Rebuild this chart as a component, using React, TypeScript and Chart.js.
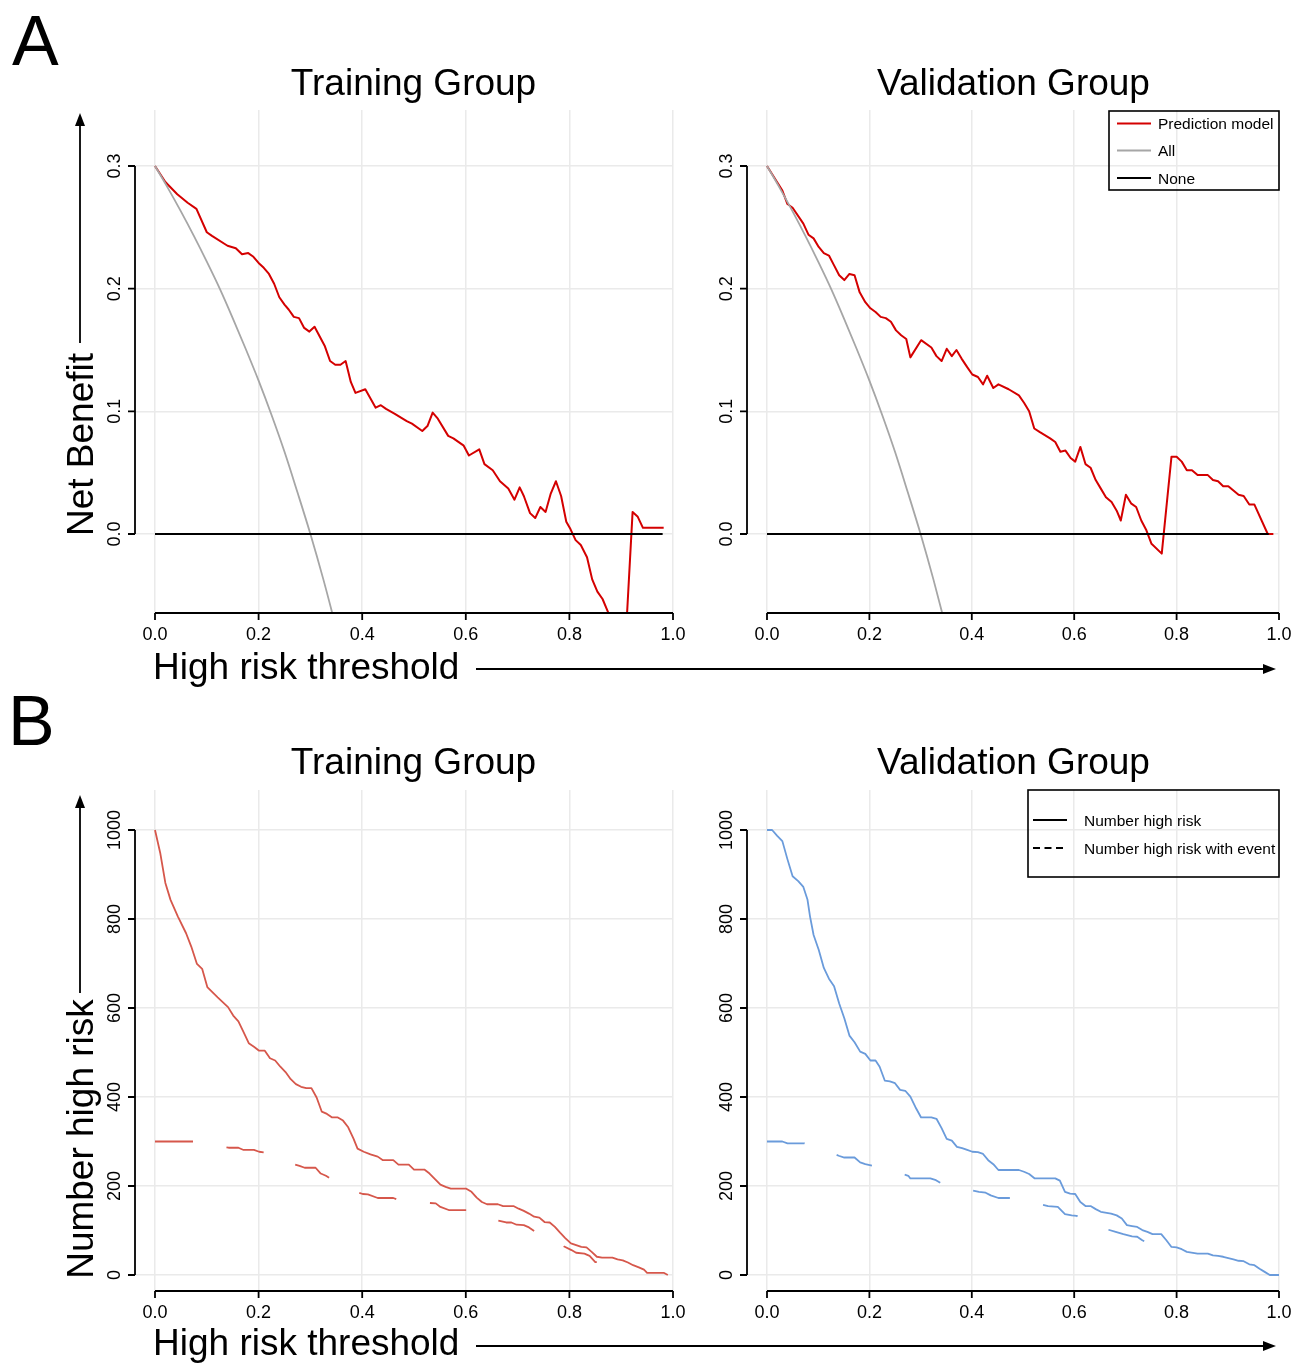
import React, { useEffect, useRef } from "react";
import { Chart, registerables } from "chart.js";

Chart.register(...registerables);

const FONT = '"Liberation Sans", Arial, Helvetica, sans-serif';

// ---------------- data ----------------
const xTickValues = [0, 0.2, 0.4, 0.6, 0.8, 1.0];
const xTickLabels = ["0.0", "0.2", "0.4", "0.6", "0.8", "1.0"];
const nbTickValues = [0, 0.1, 0.2, 0.3];
const nbTickLabels = ["0.0", "0.1", "0.2", "0.3"];
const countTickValues = [0, 200, 400, 600, 800, 1000];
const countTickLabels = ["0", "200", "400", "600", "800", "1000"];

const panelTitles = ["Training Group", "Validation Group"];
const netBenefitLegend = ["Prediction model", "All", "None"];
const countLegend = ["Number high risk", "Number high risk with event"];

// Net benefit, training group (prediction model)
const trainModelThreshold = [
  0, 0.02, 0.043, 0.063, 0.08, 0.1, 0.11, 0.14, 0.156, 0.168,
  0.18, 0.19, 0.2, 0.21, 0.22, 0.23, 0.24, 0.25, 0.258, 0.268,
  0.278, 0.288, 0.298, 0.308, 0.318, 0.328, 0.338, 0.348, 0.358, 0.368,
  0.378, 0.387, 0.406, 0.426, 0.436, 0.446, 0.463, 0.486, 0.496, 0.516,
  0.526, 0.536, 0.546, 0.566, 0.576, 0.596, 0.606, 0.626, 0.636, 0.652,
  0.666, 0.682, 0.694, 0.704, 0.712, 0.724, 0.734, 0.744, 0.754, 0.764,
  0.774, 0.784, 0.794, 0.802, 0.812, 0.822, 0.834, 0.844, 0.854, 0.864,
  0.874, 0.886, 0.898, 0.91, 0.922, 0.932, 0.942, 0.982,
];
const trainModelNB = [
  0.3, 0.287, 0.277, 0.27, 0.265, 0.246, 0.243, 0.235, 0.233, 0.228,
  0.229, 0.226, 0.221, 0.217, 0.212, 0.204, 0.193, 0.187, 0.183, 0.177,
  0.176, 0.168, 0.165, 0.169, 0.161, 0.153, 0.141, 0.138, 0.138, 0.141,
  0.124, 0.115, 0.118, 0.103, 0.105, 0.102, 0.098, 0.092, 0.09, 0.084,
  0.088, 0.099, 0.094, 0.08, 0.078, 0.072, 0.064, 0.069, 0.057, 0.052,
  0.043, 0.037, 0.028, 0.038, 0.031, 0.017, 0.013, 0.022, 0.018, 0.033,
  0.043, 0.031, 0.01, 0.004, -0.005, -0.009, -0.019, -0.037, -0.047, -0.053,
  -0.063, -0.078, -0.092, -0.075, 0.018, 0.014, 0.005, 0.005,
];

// Net benefit, validation group (prediction model)
const valModelThreshold = [
  0, 0.03, 0.04, 0.05, 0.071, 0.081, 0.091, 0.101, 0.111, 0.121,
  0.131, 0.141, 0.151, 0.161, 0.171, 0.181, 0.192, 0.202, 0.212, 0.222,
  0.232, 0.242, 0.252, 0.262, 0.272, 0.28, 0.301, 0.321, 0.331, 0.341,
  0.351, 0.361, 0.37, 0.38, 0.391, 0.401, 0.412, 0.422, 0.43, 0.442,
  0.452, 0.472, 0.492, 0.502, 0.512, 0.522, 0.533, 0.553, 0.563, 0.573,
  0.583, 0.593, 0.602, 0.612, 0.622, 0.632, 0.642, 0.652, 0.662, 0.673,
  0.683, 0.691, 0.701, 0.711, 0.721, 0.731, 0.741, 0.751, 0.771, 0.79,
  0.8, 0.81, 0.82, 0.83, 0.841, 0.861, 0.871, 0.881, 0.891, 0.901,
  0.921, 0.931, 0.942, 0.952, 0.978, 0.989,
];
const valModelNB = [
  0.3, 0.28, 0.269, 0.266, 0.253, 0.244, 0.241, 0.234, 0.229, 0.227,
  0.219, 0.211, 0.207, 0.212, 0.211, 0.197, 0.189, 0.184, 0.181, 0.177,
  0.176, 0.173, 0.166, 0.162, 0.159, 0.144, 0.158, 0.152, 0.145, 0.141,
  0.151, 0.145, 0.15, 0.143, 0.136, 0.13, 0.128, 0.122, 0.129, 0.119,
  0.122, 0.118, 0.113, 0.107, 0.1, 0.086, 0.083, 0.078, 0.075, 0.067,
  0.068, 0.062, 0.059, 0.071, 0.057, 0.054, 0.044, 0.037, 0.03, 0.026,
  0.019, 0.011, 0.032, 0.025, 0.022, 0.011, 0.003, -0.008, -0.016, 0.063,
  0.063, 0.059, 0.052, 0.052, 0.048, 0.048, 0.044, 0.043, 0.039, 0.039,
  0.032, 0.031, 0.024, 0.024, 0.0, 0.0,
];

// "All" (treat everyone) curve
const allThreshold = [0, 0.025, 0.05, 0.075, 0.1, 0.125, 0.15, 0.175, 0.2, 0.225, 0.25, 0.275, 0.3, 0.325, 0.35];
const allNB = [0.3, 0.282, 0.263, 0.243, 0.222, 0.2, 0.176, 0.151, 0.125, 0.097, 0.067, 0.034, 0.0, -0.037, -0.077];

// "None" (treat no one)
const noneThreshold = [0, 0.98];
const noneNB = [0, 0];

// Number high risk, training group
const trainHighRiskThreshold = [
  0, 0.01, 0.02, 0.03, 0.044, 0.06, 0.07, 0.081, 0.091, 0.101,
  0.121, 0.141, 0.151, 0.161, 0.171, 0.181, 0.191, 0.201, 0.212, 0.222,
  0.232, 0.242, 0.252, 0.262, 0.272, 0.282, 0.292, 0.302, 0.312, 0.322,
  0.332, 0.342, 0.353, 0.363, 0.373, 0.383, 0.391, 0.403, 0.416, 0.43,
  0.44, 0.46, 0.47, 0.49, 0.5, 0.52, 0.53, 0.541, 0.551, 0.561,
  0.571, 0.601, 0.611, 0.621, 0.631, 0.641, 0.662, 0.672, 0.692, 0.702,
  0.712, 0.722, 0.732, 0.742, 0.752, 0.762, 0.772, 0.782, 0.792, 0.803,
  0.813, 0.823, 0.833, 0.843, 0.853, 0.863, 0.883, 0.893, 0.903, 0.913,
  0.923, 0.934, 0.944, 0.95, 0.982, 0.99,
];
const trainHighRiskCount = [
  1000, 949, 881, 843, 806, 768, 738, 699, 688, 647,
  624, 602, 583, 570, 546, 521, 513, 504, 504, 487,
  482, 468, 456, 440, 429, 423, 420, 420, 399, 367,
  362, 354, 354, 347, 332, 307, 284, 277, 271, 266,
  258, 258, 248, 248, 237, 237, 228, 215, 203, 198,
  194, 194, 187, 174, 164, 159, 159, 155, 155, 149,
  144, 138, 131, 129, 119, 118, 108, 95, 83, 71,
  67, 63, 62, 52, 41, 39, 39, 35, 33, 28,
  22, 17, 12, 5, 5, 0,
];

// Number high risk with event, training group
const trainEventThreshold = [
  0, 0.075, 0.09, 0.11, 0.13, 0.142, 0.161, 0.171, 0.191, 0.201,
  0.215, 0.23, 0.25, 0.265, 0.279, 0.289, 0.31, 0.32, 0.33, 0.344,
  0.36, 0.38, 0.401, 0.411, 0.43, 0.46, 0.472, 0.49, 0.51, 0.528,
  0.542, 0.551, 0.567, 0.601, 0.612, 0.63, 0.655, 0.678, 0.688, 0.698,
  0.712, 0.722, 0.732, 0.747, 0.77, 0.79, 0.804, 0.813, 0.829, 0.839,
  0.85, 0.87, 0.89, 0.91,
];
const trainEventCount = [
  300, 300, 297, 293, 288, 286, 286, 281, 281, 277,
  275, 268, 258, 250, 245, 241, 241, 228, 223, 213,
  200, 190, 182, 181, 173, 173, 168, 166, 164, 162,
  161, 153, 146, 146, 140, 133, 124, 118, 118, 113,
  112, 107, 99, 97, 82, 64, 56, 50, 48, 43,
  29, 27, 20, 12,
];

// Number high risk, validation group
const valHighRiskThreshold = [
  0, 0.01, 0.02, 0.03, 0.04, 0.05, 0.061, 0.071, 0.079, 0.084,
  0.091, 0.101, 0.111, 0.121, 0.131, 0.141, 0.151, 0.161, 0.171, 0.182,
  0.192, 0.202, 0.212, 0.22, 0.23, 0.24, 0.25, 0.26, 0.27, 0.28,
  0.29, 0.301, 0.321, 0.331, 0.341, 0.351, 0.361, 0.371, 0.381, 0.391,
  0.401, 0.412, 0.422, 0.432, 0.442, 0.452, 0.492, 0.502, 0.512, 0.523,
  0.563, 0.572, 0.582, 0.592, 0.602, 0.612, 0.622, 0.632, 0.642, 0.652,
  0.672, 0.683, 0.693, 0.703, 0.713, 0.723, 0.733, 0.743, 0.753, 0.77,
  0.78, 0.79, 0.8, 0.81, 0.82, 0.841, 0.861, 0.871, 0.881, 0.891,
  0.901, 0.911, 0.921, 0.931, 0.942, 0.952, 0.962, 0.972, 0.982, 1.0,
];
const valHighRiskCount = [
  1000, 1000, 987, 975, 934, 896, 885, 872, 844, 806,
  764, 731, 690, 666, 649, 610, 577, 538, 523, 502,
  497, 482, 482, 468, 437, 435, 431, 416, 414, 401,
  377, 354, 354, 351, 330, 306, 302, 288, 285, 281,
  277, 276, 272, 258, 249, 236, 236, 232, 227, 217,
  217, 212, 187, 183, 182, 164, 155, 155, 148, 142,
  138, 134, 127, 112, 110, 108, 101, 97, 92, 92,
  78, 63, 62, 58, 52, 48, 48, 44, 43, 41,
  38, 35, 32, 31, 24, 22, 14, 7, 0, 0,
];

// Number high risk with event, validation group
const valEventThreshold = [
  0, 0.03, 0.04, 0.073, 0.09, 0.115, 0.14, 0.151, 0.171, 0.182,
  0.192, 0.207, 0.23, 0.255, 0.276, 0.28, 0.319, 0.33, 0.343, 0.365,
  0.39, 0.414, 0.427, 0.437, 0.452, 0.484, 0.505, 0.53, 0.549, 0.568,
  0.582, 0.595, 0.605, 0.615, 0.64, 0.66, 0.681, 0.696, 0.713, 0.723,
  0.733, 0.748, 0.765, 0.78,
];
const valEventCount = [
  300, 300, 296, 296, 290, 280, 268, 264, 264, 253,
  249, 245, 238, 230, 223, 217, 217, 213, 204, 198,
  192, 187, 185, 179, 173, 173, 168, 160, 155, 153,
  137, 134, 133, 123, 112, 104, 97, 92, 87, 86,
  78, 69, 60, 52,
];

// ---------------- styles ----------------
const RED_NB = "#D40000";
const GRAY_ALL = "#A6A6A6";
const RED_COUNT = "#D6574B";
const BLUE_COUNT = "#6A9BDB";
const GRID = "#EAEAEA";

const pts = (xs: number[], ys: number[]) => xs.map((x, i) => ({ x, y: ys[i] }));

type Rect = { left: number; top: number; width: number; height: number };
type Area = { left: number; right: number; top: number; bottom: number };
type LegendSpec = {
  width: number;
  height: number;
  top: number;
  rows: number[];
  lineX0: number;
  lineX1: number;
  textX: number;
  items: { label: string; color: string; dash: number[]; width: number }[];
};
type PanelProps = {
  canvas: Rect;
  area: Area;
  xMin: number;
  xMax: number;
  yMin: number;
  yMax: number;
  yTicks: number[];
  yLabels: string[];
  datasets: any[];
  legend?: LegendSpec;
};

function Panel(props: PanelProps) {
  const ref = useRef<HTMLCanvasElement>(null);
  useEffect(() => {
    const el = ref.current;
    if (!el) return;
    const { canvas, area, legend } = props;
    const axesPlugin = {
      id: "rAxes",
      afterDraw(chart: any) {
        const ctx = chart.ctx as CanvasRenderingContext2D;
        const xs = chart.scales.x;
        const ys = chart.scales.y;
        const ca = chart.chartArea;
        ctx.save();
        ctx.strokeStyle = "#000";
        ctx.fillStyle = "#000";
        ctx.lineWidth = 1.8;
        ctx.lineCap = "butt";
        // x axis
        const yLine = ca.bottom;
        ctx.beginPath();
        ctx.moveTo(xs.getPixelForValue(xTickValues[0]), yLine);
        ctx.lineTo(xs.getPixelForValue(xTickValues[xTickValues.length - 1]), yLine);
        xTickValues.forEach((v) => {
          const px = xs.getPixelForValue(v);
          ctx.moveTo(px, yLine);
          ctx.lineTo(px, yLine + 7);
        });
        ctx.stroke();
        ctx.font = `18px ${FONT}`;
        ctx.textAlign = "center";
        ctx.textBaseline = "alphabetic";
        xTickValues.forEach((v, i) => {
          ctx.fillText(xTickLabels[i], xs.getPixelForValue(v), yLine + 27);
        });
        // y axis
        const xLine = ca.left;
        ctx.beginPath();
        ctx.moveTo(xLine, ys.getPixelForValue(props.yTicks[0]));
        ctx.lineTo(xLine, ys.getPixelForValue(props.yTicks[props.yTicks.length - 1]));
        props.yTicks.forEach((v) => {
          const py = ys.getPixelForValue(v);
          ctx.moveTo(xLine, py);
          ctx.lineTo(xLine - 7, py);
        });
        ctx.stroke();
        props.yTicks.forEach((v, i) => {
          const py = ys.getPixelForValue(v);
          ctx.save();
          ctx.translate(xLine - 15, py);
          ctx.rotate(-Math.PI / 2);
          ctx.textAlign = "center";
          ctx.fillText(props.yLabels[i], 0, 0);
          ctx.restore();
        });
        // legend
        if (legend) {
          const bx = ca.right - legend.width;
          const by = ca.top + legend.top;
          ctx.lineWidth = 1.6;
          ctx.strokeStyle = "#000";
          ctx.strokeRect(bx, by, legend.width, legend.height);
          ctx.font = `15.5px ${FONT}`;
          ctx.textAlign = "left";
          legend.items.forEach((it, i) => {
            const yy = by + legend.rows[i];
            ctx.beginPath();
            ctx.setLineDash(it.dash);
            ctx.strokeStyle = it.color;
            ctx.lineWidth = it.width;
            ctx.moveTo(bx + legend.lineX0, yy);
            ctx.lineTo(bx + legend.lineX1, yy);
            ctx.stroke();
            ctx.setLineDash([]);
            ctx.fillStyle = "#000";
            ctx.fillText(it.label, bx + legend.textX, yy + 5.5);
          });
        }
        ctx.restore();
      },
    };
    const chart = new Chart(el, {
      type: "line",
      data: { datasets: props.datasets },
      options: {
        responsive: false,
        maintainAspectRatio: false,
        animation: false,
        devicePixelRatio: 1,
        events: [],
        layout: {
          padding: {
            left: area.left - canvas.left,
            right: canvas.left + canvas.width - area.right,
            top: area.top - canvas.top,
            bottom: canvas.top + canvas.height - area.bottom,
          },
        },
        elements: { point: { radius: 0 }, line: { tension: 0, borderJoinStyle: "round" } },
        plugins: {
          legend: { display: false },
          title: { display: false },
          tooltip: { enabled: false },
        },
        scales: {
          x: {
            type: "linear",
            min: props.xMin,
            max: props.xMax,
            afterBuildTicks: (s: any) => {
              s.ticks = xTickValues.map((v) => ({ value: v }));
            },
            afterFit: (s: any) => {
              s.height = 0;
            },
            grid: { color: GRID, lineWidth: 1.5, drawTicks: false },
            border: { display: false },
            ticks: { display: false },
          },
          y: {
            type: "linear",
            min: props.yMin,
            max: props.yMax,
            afterBuildTicks: (s: any) => {
              s.ticks = props.yTicks.map((v) => ({ value: v }));
            },
            afterFit: (s: any) => {
              s.width = 0;
            },
            grid: { color: GRID, lineWidth: 1.5, drawTicks: false },
            border: { display: false },
            ticks: { display: false },
          },
        },
      } as any,
      plugins: [axesPlugin],
    });
    return () => chart.destroy();
  }, []);
  const c = props.canvas;
  return (
    <canvas
      ref={ref}
      width={c.width}
      height={c.height}
      style={{ position: "absolute", left: c.left, top: c.top, width: c.width, height: c.height }}
    />
  );
}

function nbDatasets(modelT: number[], modelNB: number[]) {
  return [
    { label: netBenefitLegend[0], data: pts(modelT, modelNB), borderColor: RED_NB, borderWidth: 2, order: 3 },
    { label: netBenefitLegend[1], data: pts(allThreshold, allNB), borderColor: GRAY_ALL, borderWidth: 1.8, cubicInterpolationMode: "monotone", order: 2 },
    { label: netBenefitLegend[2], data: pts(noneThreshold, noneNB), borderColor: "#000", borderWidth: 2, order: 1 },
  ];
}

function countDatasets(hT: number[], hC: number[], eT: number[], eC: number[], color: string) {
  return [
    { label: countLegend[0], data: pts(hT, hC), borderColor: color, borderWidth: 1.8, order: 1 },
    { label: countLegend[1], data: pts(eT, eC), borderColor: color, borderWidth: 1.8, borderDash: [38, 34], order: 2 },
  ];
}

const nbLegend: LegendSpec = {
  width: 170,
  height: 79,
  top: 1,
  rows: [12.5, 39.5, 67],
  lineX0: 8,
  lineX1: 42,
  textX: 49,
  items: [
    { label: netBenefitLegend[0], color: RED_NB, dash: [], width: 2 },
    { label: netBenefitLegend[1], color: GRAY_ALL, dash: [], width: 2 },
    { label: netBenefitLegend[2], color: "#000", dash: [], width: 2 },
  ],
};
const cntLegend: LegendSpec = {
  width: 251,
  height: 87,
  top: 0,
  rows: [30, 58],
  lineX0: 5,
  lineX1: 39,
  textX: 56,
  items: [
    { label: countLegend[0], color: "#000", dash: [], width: 1.8 },
    { label: countLegend[1], color: "#000", dash: [7, 4.5], width: 1.8 },
  ],
};

const NB_MIN = -(613 - 534) / (368 / 0.3);
const NB_MAX = 0.3 + (166 - 110) / (368 / 0.3);
const CNT_MIN = -(1291 - 1275) / 0.445;
const CNT_MAX = 1000 + (830 - 790) / 0.445;

export default function App() {
  const textStyle = { fontFamily: FONT, fill: "#000" } as any;
  return (
    <div
      style={{
        position: "absolute",
        left: 0,
        top: 0,
        width: 1299,
        height: 1364,
        background: "#fff",
        overflow: "hidden",
      }}
    >
      <Panel
        canvas={{ left: 90, top: 100, width: 610, height: 560 }}
        area={{ left: 135, right: 673, top: 110, bottom: 613 }}
        xMin={-20 / 518}
        xMax={1}
        yMin={NB_MIN}
        yMax={NB_MAX}
        yTicks={nbTickValues}
        yLabels={nbTickLabels}
        datasets={nbDatasets(trainModelThreshold, trainModelNB)}
      />
      <Panel
        canvas={{ left: 700, top: 100, width: 599, height: 560 }}
        area={{ left: 747, right: 1279, top: 110, bottom: 613 }}
        xMin={-20 / 512}
        xMax={1}
        yMin={NB_MIN}
        yMax={NB_MAX}
        yTicks={nbTickValues}
        yLabels={nbTickLabels}
        datasets={nbDatasets(valModelThreshold, valModelNB)}
        legend={nbLegend}
      />
      <Panel
        canvas={{ left: 90, top: 780, width: 610, height: 550 }}
        area={{ left: 135, right: 673, top: 790, bottom: 1291 }}
        xMin={-20 / 518}
        xMax={1}
        yMin={CNT_MIN}
        yMax={CNT_MAX}
        yTicks={countTickValues}
        yLabels={countTickLabels}
        datasets={countDatasets(trainHighRiskThreshold, trainHighRiskCount, trainEventThreshold, trainEventCount, RED_COUNT)}
      />
      <Panel
        canvas={{ left: 700, top: 780, width: 599, height: 550 }}
        area={{ left: 747, right: 1279, top: 790, bottom: 1291 }}
        xMin={-20 / 512}
        xMax={1}
        yMin={CNT_MIN}
        yMax={CNT_MAX}
        yTicks={countTickValues}
        yLabels={countTickLabels}
        datasets={countDatasets(valHighRiskThreshold, valHighRiskCount, valEventThreshold, valEventCount, BLUE_COUNT)}
        legend={cntLegend}
      />
      <svg
        width={1299}
        height={1364}
        style={{ position: "absolute", left: 0, top: 0, pointerEvents: "none" }}
      >
        <g style={textStyle}>
          <text x={12} y={65} fontSize={70}>A</text>
          <text x={8} y={745} fontSize={70}>B</text>
          <text x={413.5} y={95} fontSize={37} textAnchor="middle">{panelTitles[0]}</text>
          <text x={1013.5} y={95} fontSize={37} textAnchor="middle">{panelTitles[1]}</text>
          <text x={413.5} y={774} fontSize={37} textAnchor="middle">{panelTitles[0]}</text>
          <text x={1013.5} y={774} fontSize={37} textAnchor="middle">{panelTitles[1]}</text>
          <text transform="translate(93,444.5) rotate(-90)" fontSize={37} textAnchor="middle">Net Benefit</text>
          <text transform="translate(93,1139) rotate(-90)" fontSize={37} textAnchor="middle">Number high risk</text>
          <text x={153} y={679} fontSize={37}>High risk threshold</text>
          <text x={153} y={1355} fontSize={37}>High risk threshold</text>
        </g>
        <g stroke="#000" strokeWidth={1.8} fill="none">
          <line x1={80} y1={343} x2={80} y2={124} />
          <line x1={80} y1={993} x2={80} y2={806} />
          <line x1={476} y1={669} x2={1264} y2={669} />
          <line x1={476} y1={1346} x2={1264} y2={1346} />
        </g>
        <g fill="#000">
          <polygon points="80,113 75,126 85,126" />
          <polygon points="80,795 75,808 85,808" />
          <polygon points="1276,669 1263,664 1263,674" />
          <polygon points="1276,1346 1263,1341 1263,1351" />
        </g>
      </svg>
    </div>
  );
}
